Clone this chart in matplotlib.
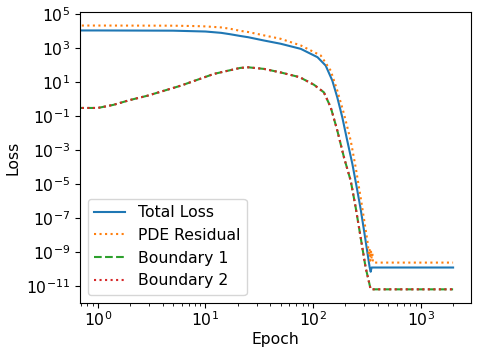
import matplotlib
matplotlib.use("Agg")
import matplotlib.pyplot as plt
from matplotlib.ticker import NullLocator

plt.rcParams['font.size'] = 11.25

# ---- data ----
epochs_total = [0, 1, 5, 10, 14, 17, 21, 25, 35, 50, 77, 110, 131, 151, 168, 187,
                208, 232, 258, 277, 308, 335, 343, 350, 2000]
total_loss = [1.05e4, 1.05e4, 1.02e4, 9.1e3, 7.6e3, 6.3e3, 5.0e3, 4.2e3, 2.7e3, 1.74e3,
              870, 282, 91, 12.0, 1.23, 8.3e-2, 3.5e-3, 1.5e-4, 4.1e-6, 3.4e-7,
              4.6e-9, 1.4e-10, 7.1e-11, 1.26e-10, 1.26e-10]

epochs_pde = [0, 1, 5, 8, 10, 14, 17, 21, 25, 35, 50, 77, 118, 146, 168, 194, 224,
              249, 277, 320, 325, 330, 335, 340, 345, 350, 355, 360, 2000]
pde_residual = [2.04e4, 2.04e4, 2.0e4, 1.9e4, 1.82e4, 1.58e4, 1.32e4, 1.0e4, 8.5e3,
                5.4e3, 3.4e3, 1.38e3, 355, 45.7, 3.1, 0.13, 3.5e-3, 9.5e-5, 1.6e-6,
                4.6e-9, 2.0e-9, 6.3e-10, 1.6e-9, 3.2e-10, 1.26e-9, 4.0e-10, 1.0e-9,
                2.45e-10, 2.45e-10]

epochs_bc = [0, 1, 1.4, 2, 2.9, 5.9, 12, 21, 25, 35, 50, 75, 102, 126, 146, 168,
             194, 224, 249, 308, 343, 2000]
boundary_1 = [0.295, 0.295, 0.45, 0.87, 1.55, 6.0, 29.5, 66, 72, 58, 36, 19, 6.8,
              2.45, 0.32, 1.4e-2, 3.6e-4, 1.55e-5, 4.2e-7, 1.26e-10, 6.6e-12, 6.6e-12]
boundary_2 = [0.295, 0.295, 0.45, 0.87, 1.55, 6.0, 29.5, 66, 72, 58, 36, 19, 6.8,
              2.45, 0.32, 1.4e-2, 3.6e-4, 1.55e-5, 4.2e-7, 1.26e-10, 6.6e-12, 6.6e-12]

y_ticks = [1e-11, 1e-9, 1e-7, 1e-5, 1e-3, 1e-1, 1e1, 1e3, 1e5]

fig = plt.figure(figsize=(4.79, 3.53), dpi=100)
ax = fig.add_axes([0.167, 0.143, 0.816, 0.822])

ax.plot(epochs_total, total_loss, '-', color='C0', label='Total Loss')
ax.plot(epochs_pde, pde_residual, ':', color='C1', label='PDE Residual')
ax.plot(epochs_bc, boundary_1, '--', color='C2', label='Boundary 1')
ax.plot(epochs_bc, boundary_2, ':', color='C3', label='Boundary 2')
ax.set_xscale('log')
ax.set_yscale('log')
ax.set_yticks(y_ticks)
ax.yaxis.set_minor_locator(NullLocator())
ax.tick_params(axis='x', which='major', pad=2)

ax.set_xlabel('Epoch', labelpad=2.5)
ax.set_ylabel('Loss')
ax.legend(loc='lower left')

fig.savefig('out.png', dpi=100)
